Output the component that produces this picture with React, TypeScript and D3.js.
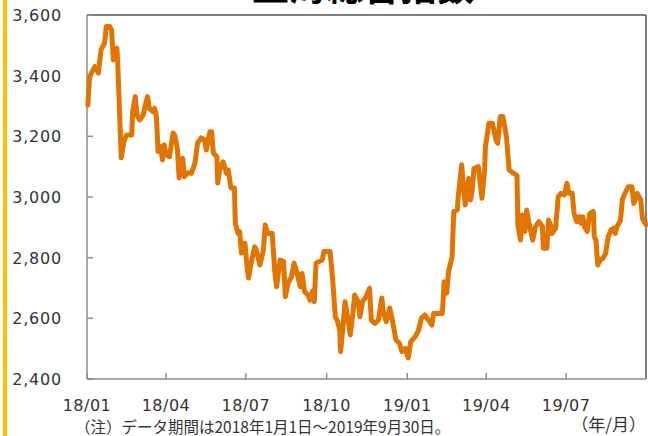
import React from 'react';
import * as d3 from 'd3';

// trading dates (yyyy-mm-dd)
const dates: string[] = [
  '2018-01-02', '2018-01-04', '2018-01-10', '2018-01-14', '2018-01-17', '2018-01-21', '2018-01-23', '2018-01-27',
  '2018-01-29', '2018-01-31', '2018-02-04', '2018-02-05', '2018-02-09', '2018-02-12', '2018-02-15', '2018-02-21',
  '2018-02-22', '2018-02-25', '2018-02-27', '2018-03-02', '2018-03-06', '2018-03-09', '2018-03-11', '2018-03-13',
  '2018-03-17', '2018-03-19', '2018-03-21', '2018-03-23', '2018-03-26', '2018-03-28', '2018-03-30', '2018-04-01',
  '2018-04-05', '2018-04-09', '2018-04-11', '2018-04-14', '2018-04-16', '2018-04-20', '2018-04-22', '2018-04-26',
  '2018-04-30', '2018-05-04', '2018-05-07', '2018-05-11', '2018-05-15', '2018-05-17', '2018-05-21', '2018-05-23',
  '2018-05-25', '2018-05-29', '2018-05-30', '2018-06-01', '2018-06-05', '2018-06-09', '2018-06-11', '2018-06-14',
  '2018-06-18', '2018-06-19', '2018-06-22', '2018-06-24', '2018-06-26', '2018-06-30', '2018-07-02', '2018-07-04',
  '2018-07-07', '2018-07-11', '2018-07-13', '2018-07-17', '2018-07-21', '2018-07-23', '2018-07-26', '2018-07-31',
  '2018-08-03', '2018-08-05', '2018-08-09', '2018-08-13', '2018-08-15', '2018-08-18', '2018-08-22', '2018-08-25',
  '2018-08-28', '2018-09-01', '2018-09-03', '2018-09-06', '2018-09-10', '2018-09-12', '2018-09-15', '2018-09-17',
  '2018-09-19', '2018-09-22', '2018-09-26', '2018-09-28', '2018-10-05', '2018-10-08', '2018-10-11', '2018-10-13',
  '2018-10-16', '2018-10-17', '2018-10-20', '2018-10-22', '2018-10-25', '2018-10-28', '2018-10-31', '2018-11-02',
  '2018-11-06', '2018-11-08', '2018-11-11', '2018-11-15', '2018-11-19', '2018-11-21', '2018-11-25', '2018-11-29',
  '2018-12-03', '2018-12-05', '2018-12-08', '2018-12-12', '2018-12-15', '2018-12-19', '2018-12-23', '2018-12-26',
  '2018-12-30', '2019-01-02', '2019-01-05', '2019-01-10', '2019-01-14', '2019-01-17', '2019-01-21', '2019-01-25',
  '2019-01-29', '2019-01-31', '2019-02-10', '2019-02-12', '2019-02-15', '2019-02-17', '2019-02-21', '2019-02-23',
  '2019-02-27', '2019-02-28', '2019-03-04', '2019-03-06', '2019-03-08', '2019-03-12', '2019-03-14', '2019-03-16',
  '2019-03-18', '2019-03-23', '2019-03-27', '2019-03-30', '2019-03-31', '2019-04-04', '2019-04-08', '2019-04-12',
  '2019-04-14', '2019-04-17', '2019-04-20', '2019-04-24', '2019-04-27', '2019-05-02', '2019-05-06', '2019-05-07',
  '2019-05-10', '2019-05-12', '2019-05-15', '2019-05-17', '2019-05-20', '2019-05-24', '2019-05-27', '2019-05-31',
  '2019-06-04', '2019-06-05', '2019-06-09', '2019-06-11', '2019-06-14', '2019-06-15', '2019-06-19', '2019-06-22',
  '2019-06-25', '2019-06-29', '2019-07-02', '2019-07-04', '2019-07-08', '2019-07-10', '2019-07-13', '2019-07-16',
  '2019-07-18', '2019-07-20', '2019-07-22', '2019-07-25', '2019-07-28', '2019-08-01', '2019-08-02', '2019-08-04',
  '2019-08-06', '2019-08-09', '2019-08-12', '2019-08-15', '2019-08-18', '2019-08-21', '2019-08-24', '2019-08-26',
  '2019-08-28', '2019-09-01', '2019-09-03', '2019-09-06', '2019-09-10', '2019-09-14', '2019-09-16', '2019-09-20',
  '2019-09-24', '2019-09-26', '2019-09-30',
];

// 上海総合指数 closing levels
const values: number[] = [
  3303, 3397, 3430, 3409, 3485, 3507, 3562, 3562,
  3550, 3452, 3491, 3446, 3129, 3182, 3204, 3204,
  3281, 3331, 3270, 3254, 3270, 3310, 3331, 3292,
  3281, 3292, 3270, 3150, 3166, 3122, 3172, 3139,
  3133, 3211, 3204, 3160, 3063, 3128, 3067, 3080,
  3078, 3111, 3178, 3195, 3188, 3155, 3215, 3215,
  3145, 3133, 3046, 3089, 3116, 3078, 3089, 3030,
  3030, 2914, 2880, 2886, 2815, 2847, 2781, 2733,
  2781, 2836, 2825, 2776, 2825, 2908, 2880, 2880,
  2754, 2704, 2792, 2787, 2671, 2715, 2737, 2782,
  2754, 2704, 2748, 2688, 2677, 2660, 2690, 2655,
  2782, 2787, 2792, 2820, 2820, 2726, 2605, 2594,
  2562, 2490, 2583, 2655, 2605, 2545, 2616, 2677,
  2655, 2605, 2655, 2671, 2699, 2594, 2583, 2594,
  2667, 2616, 2589, 2634, 2594, 2529, 2518, 2490,
  2501, 2469, 2523, 2539, 2562, 2600, 2611, 2594,
  2578, 2616, 2616, 2721, 2683, 2754, 2803, 2952,
  2957, 3001, 3106, 3029, 2974, 3061, 2990, 3023,
  3094, 3100, 2996, 3083, 3166, 3243, 3243, 3188,
  3177, 3265, 3265, 3199, 3089, 3078, 3072, 2908,
  2858, 2941, 2886, 2957, 2908, 2858, 2902, 2919,
  2902, 2831, 2831, 2924, 2902, 2880, 2897, 3001,
  3012, 3007, 3045, 3012, 3012, 2946, 2919, 2935,
  2913, 2935, 2902, 2886, 2946, 2952, 2869, 2858,
  2776, 2792, 2798, 2814, 2869, 2891, 2897, 2880,
  2902, 2924, 2990, 3012, 3034, 3034, 2979, 3012,
  2990, 2929, 2908,
];

const yTicks: number[] = [2400, 2600, 2800, 3000, 3200, 3400, 3600];
const xTickDates: string[] = ['2018-01-01', '2018-04-01', '2018-07-01', '2018-10-01', '2019-01-01', '2019-04-01', '2019-07-01'];
const xTickLabels: string[] = ['18/01', '18/04', '18/07', '18/10', '19/01', '19/04', '19/07'];

const title = '上海総合指数';
const note = '（注）データ期間は2018年1月1日～2019年9月30日。';
const unit = '（年/月）';

const W = 648;
const H = 436;
const left = 87;
const right = 646;
const top = 15;
const bottom = 379;

const parse = d3.timeParse('%Y-%m-%d');

export default function App() {
  const data = dates.map((d, i) => ({ date: parse(d) as Date, value: values[i] }));

  const x = d3.scaleTime()
    .domain([parse('2018-01-01') as Date, parse('2019-09-30') as Date])
    .range([left, right]);
  const y = d3.scaleLinear().domain([2400, 3600]).range([bottom, top]);

  const line = d3.line<{ date: Date; value: number }>()
    .x(d => x(d.date))
    .y(d => y(d.value));

  const fmt = d3.format(',');
  const axisColor = '#8c8c8c';
  const textColor = '#333';
  const font = '"DejaVu Sans", Verdana, sans-serif';
  const jp = '"Noto Sans CJK JP", sans-serif';

  return (
    <svg
      width={W}
      height={H}
      viewBox={`0 0 ${W} ${H}`}
      style={{ position: 'absolute', left: 0, top: 0, background: '#fff' }}
    >
      <rect x={0} y={0} width={W} height={H} fill="#fff" />
      {/* yellow accent bar */}
      <rect x={3} y={0} width={4} height={H} fill="#FFC000" />

      {/* title sits above the frame, mostly outside the picture as in the source */}
      <text x={363} y={1} textAnchor="middle" fontFamily={jp} fontWeight="bold" fontSize={37} fill="#000">
        {title}
      </text>

      {/* frame */}
      <line x1={left} x2={right} y1={top} y2={top} stroke="#555" strokeWidth={1.5} />
      <line x1={right} x2={right} y1={top} y2={bottom} stroke="#555" strokeWidth={1.5} />
      <line x1={left} x2={left} y1={top} y2={bottom} stroke={axisColor} strokeWidth={1.5} />
      <line x1={left} x2={right} y1={bottom} y2={bottom} stroke={axisColor} strokeWidth={1.5} />

      {yTicks.map(t => (
        <g key={t}>
          <line x1={left} x2={left + 6} y1={y(t)} y2={y(t)} stroke={axisColor} strokeWidth={1.5} />
          <text
            x={62}
            y={y(t) + 6}
            textAnchor="end"
            fontFamily={font}
            fontSize={16}
            letterSpacing={0.8}
            fill={textColor}
          >
            {fmt(t)}
          </text>
        </g>
      ))}

      {xTickDates.map((d, i) => {
        const xv = x(parse(d) as Date);
        return (
          <g key={d}>
            <line x1={xv} x2={xv} y1={bottom} y2={bottom - 6} stroke={axisColor} strokeWidth={1.5} />
            <text
              x={xv}
              y={411}
              textAnchor="middle"
              fontFamily={font}
              fontSize={16}
              letterSpacing={0.5}
              fill={textColor}
            >
              {xTickLabels[i]}
            </text>
          </g>
        );
      })}

      <path
        d={line(data) || ''}
        fill="none"
        stroke="#E27500"
        strokeWidth={5}
        strokeLinejoin="round"
        strokeLinecap="round"
      />

      <text x={75} y={433} fontFamily={jp} fontSize={15.5} fill={textColor}>
        {note}
      </text>
      <text x={646} y={431} textAnchor="end" fontFamily={jp} fontSize={17} fill={textColor}>
        {unit}
      </text>
    </svg>
  );
}
